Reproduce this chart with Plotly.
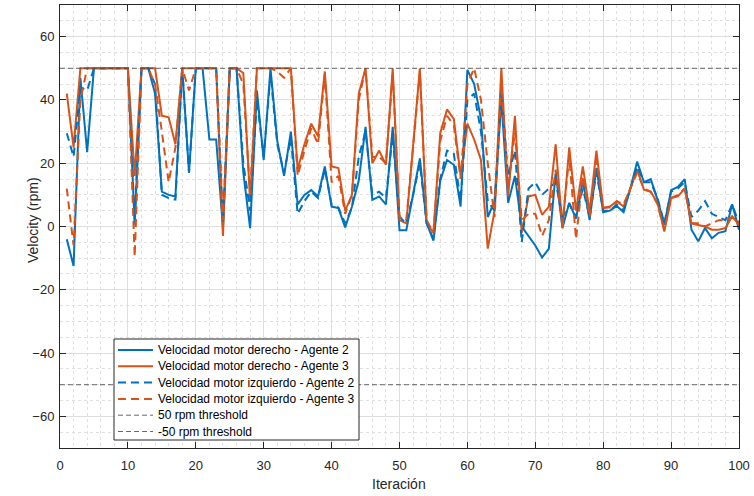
import plotly.graph_objects as go

# Iteration index
iteracion = list(range(1, 101))

# Right motor speed, agent 2 (rpm)
der_ag2 = [-4, -12.5, 47, 23.5, 50, 50, 50, 50, 50, 50,
           0.5, 50, 50, 42, 11, 10, 9.5, 50, 17, 50,
           50, 27.5, 27.5, -0.5, 50, 50, 17, -0.5, 43, 21,
           50, 27, 16, 30, 7, 10, 11.5, 9.5, 19, 6.3,
           5.8, -0.3, 6.3, 14.5, 31.5, 8.4, 9.5, 7, 31.5, -1.2,
           -1.2, 10.5, 21.5, 1, -4.5, 14.5, 21, 19.5, 6.3, 49.5,
           45, 34, 3, 8, 40, 7.5, 16, 0, -3, -6,
           -9.8, -7, 17, -0.5, 7.5, 2.5, 14.5, 2, 18.5, 4.5,
           5, 6.5, 4.5, 12, 20.5, 14, 15, 8.5, 0.5, 11.5,
           12.5, 15, -1, -4.7, -0.5, -3.7, -2, -1.5, 7, -1]

# Right motor speed, agent 3 (rpm)
der_ag3 = [42, 25, 50, 50, 50, 50, 50, 50, 50, 50,
           16, 50, 50, 50, 35, 34.5, 26, 50, 50, 50,
           50, 50, 50, -3, 50, 50, 48.5, 8, 50, 50,
           50, 50, 50, 50, 18, 26, 32.5, 28.5, 49, 19,
           18.5, 5, 10, 42, 50, 20, 24, 19.5, 50, 2,
           1, 26, 50, 1, -2, 29.5, 37, 34, 16, 32.5,
           27.5, 21, -7, 5, 50, 9.5, 35, -2, 9.5, 10,
           3.7, 6.3, 26, -0.5, 25, 5, 19, 4.7, 24, 5.8,
           6.3, 8, 6.3, 12, 18, 11.6, 11, 7.4, -1.6, 9,
           9.5, 12, 1, 0.5, 0, -1, -1, -0.5, 3.2, 0.5]

# Left motor speed, agent 2 (rpm)
izq_ag2 = [29.5, 22, 44, 43, 50, 50, 50, 50, 50, 50,
           2, 50, 50, 45, 10, 9, 8.5, 50, 17, 50,
           50, 50, 50, 1, 50, 50, 20, 5, 40, 22,
           48, 26, 17, 28, 4, 8, 11, 9, 18, 7,
           6, 1, 6, 22, 30, 10, 11, 9, 29, 3,
           1, 10, 20, 1, -4, 15, 24, 23, 8, 40,
           42, 30, 8, 5, 42, 16, 24, -5, 12, 14,
           10, 12, 14, 3, 7, 3, 12, 3, 17, 5,
           5, 7, 5, 12, 19, 14, 14, 9, 1, 11,
           12, 14, 3, 5, 8, 4, 3, 2, 7, 1]

# Left motor speed, agent 3 (rpm)
izq_ag3 = [12, -6, 40, 50, 50, 50, 50, 50, 50, 50,
           -9.5, 50, 50, 45, 30, 14, 25, 50, 43, 50,
           50, 50, 50, 2, 50, 50, 45, 10, 50, 50,
           50, 49, 47, 50, 16, 24, 31, 26, 48, 14,
           16, 4, 10, 40, 50, 22, 22, 20, 48, 3,
           2, 25, 49, 2, -2, 27, 35, 32, 15, 45,
           50, 40, 20, 3, 45, 12, 30, 2, 4, 4,
           -3, 2, 18, 1, 22, -4, 16, 3, 21, 6,
           6, 8, 7, 12, 17, 12, 11, 7, -1, 9,
           10, 12, 1, 1, 0, 1, 2, 2, 3, 1]

umbral = 50
x_lim = [0, 100]
y_lim = [-70, 70]

nombres = ["Velocidad motor derecho - Agente 2",
           "Velocidad motor derecho - Agente 3",
           "Velocidad motor izquierdo - Agente 2",
           "Velocidad motor izquierdo - Agente 3",
           "50 rpm threshold",
           "-50 rpm threshold"]

AZUL = "#0072BD"
NARANJA = "#D95319"
GRIS = "#404040"
FONT = "Liberation Sans, Arial, Helvetica, sans-serif"
DASH = "8px,5px"
DASH_UMBRAL = "5px,3px"

estilos = [
    dict(color=AZUL, width=2),
    dict(color=NARANJA, width=2),
    dict(color=AZUL, width=2, dash=DASH),
    dict(color=NARANJA, width=2, dash=DASH),
    dict(color=GRIS, width=0.8, dash=DASH_UMBRAL),
    dict(color=GRIS, width=0.8, dash=DASH_UMBRAL),
]
series = [der_ag2, der_ag3, izq_ag2, izq_ag3,
          [umbral, umbral], [-umbral, -umbral]]
xs = [iteracion] * 4 + [x_lim, x_lim]

fig = go.Figure()
for x, y, nombre, estilo in zip(xs, series, nombres, estilos):
    fig.add_trace(go.Scatter(x=x, y=y, mode="lines", name=nombre,
                             line=estilo, showlegend=False))

# Figure geometry (pixels)
W, H = 754, 496
ML, MR, MT, MB = 60, 15, 5, 48
PW, PH = W - ML - MR, H - MT - MB


def px(xp):
    return (xp - ML) / PW


def py(yp):
    return 1 - (yp - MT) / PH


# Boxed legend in the lower-left part of the axes
shapes = [dict(type="rect", xref="paper", yref="paper",
               x0=px(114), x1=px(359), y0=py(339), y1=py(440),
               fillcolor="white", line=dict(color="#262626", width=1),
               layer="above")]
annotations = []
fila0, paso = 350, 16.3
for i, (nombre, estilo) in enumerate(zip(nombres, estilos)):
    yc = fila0 + i * paso
    shapes.append(dict(type="line", xref="paper", yref="paper",
                       x0=px(118), x1=px(153), y0=py(yc), y1=py(yc),
                       line=estilo, layer="above"))
    annotations.append(dict(text=nombre, xref="paper", yref="paper",
                            x=px(156), y=py(yc), xanchor="left", yanchor="middle",
                            showarrow=False,
                            font=dict(family=FONT, size=12, color="#000000")))

# Axis titles
annotations.append(dict(text="Iteración", xref="paper", yref="paper",
                        x=px(399), y=py(484), xanchor="center", yanchor="middle",
                        showarrow=False,
                        font=dict(family=FONT, size=14, color="#262626")))
annotations.append(dict(text="Velocity (rpm)", xref="paper", yref="paper",
                        x=px(33), y=py(220), xanchor="center", yanchor="middle",
                        textangle=-90, showarrow=False,
                        font=dict(family=FONT, size=14, color="#262626")))

axis_common = dict(
    showline=True, linecolor="#262626", linewidth=1, mirror="ticks",
    ticks="inside", ticklen=6, tickcolor="#262626", tickwidth=1,
    showgrid=True, gridcolor="#dedede", gridwidth=1,
    zeroline=False,
    tickfont=dict(family=FONT, size=13, color="#262626"),
)

fig.update_xaxes(range=x_lim, dtick=10, tick0=0, ticklabelstandoff=5,
                 minor=dict(dtick=2, showgrid=True, gridcolor="#e0e0e0",
                            griddash="dot", ticks=""),
                 **axis_common)
fig.update_yaxes(range=y_lim, dtick=20, tick0=0, ticklabelstandoff=2,
                 minor=dict(dtick=5, showgrid=True, gridcolor="#e0e0e0",
                            griddash="dot", ticks=""),
                 **axis_common)

fig.update_layout(
    width=W, height=H,
    margin=dict(l=ML, r=MR, t=MT, b=MB, autoexpand=False),
    paper_bgcolor="white", plot_bgcolor="white",
    font=dict(family=FONT, color="#262626"),
    showlegend=False,
    shapes=shapes,
    annotations=annotations,
)

fig.write_html("out.html")
